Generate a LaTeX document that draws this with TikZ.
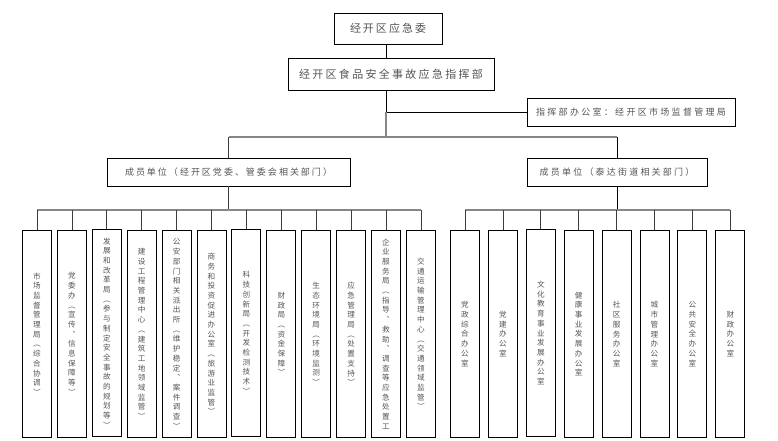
\documentclass[tikz,border=0pt]{standalone}
\usepackage{fontspec}
\newfontfamily\cjk{Noto Sans CJK SC}
\definecolor{txt}{RGB}{85,85,85}
\definecolor{busc}{RGB}{135,135,135}
\definecolor{dropc}{RGB}{60,60,60}
\makeatletter
\newcommand\hsp[2]{\def\hsp@s{}\@tfor\hsp@c:=#2\do{\hsp@s\hsp@c\def\hsp@s{\hskip#1\relax}}}
\newcommand\vtxt[1]{\vbox{\baselineskip=9.7pt\lineskip=0pt\lineskiplimit=-\maxdimen
  \@tfor\vt@c:=#1\do{\hbox to 10pt{\hss\vt@c\hss}}}}
\makeatother
\begin{document}
\begin{tikzpicture}[x=1pt,y=-1pt,
  hbig/.style={draw=black,line width=0.9pt,inner sep=0pt,text=txt,font=\cjk\fontsize{11}{13}\selectfont},
  hsmall/.style={draw=black,line width=0.9pt,inner sep=0pt,text=txt,font=\cjk\fontsize{9}{11}\selectfont},
  vbx/.style={draw=black,line width=0.9pt,inner sep=0pt,text=txt,minimum width=29pt,minimum height=207pt,font=\cjk\fontsize{7.6}{9.7}\selectfont},
  conn/.style={draw=dropc,line width=0.8pt},
  busline/.style={draw=busc,line width=1.3pt}]
\useasboundingbox (0,0) rectangle (778,441);

% top part
\node[hbig,minimum width=108pt,minimum height=31pt] (top) at (388,28.5) {\hsp{2pt}{经开区应急委}};
\node[hbig,minimum width=206pt,minimum height=32pt] (cmd) at (391,74) {\hsp{2.3pt}{经开区食品安全事故应急指挥部}};
\node[hsmall,minimum width=208pt,minimum height=28pt] (office) at (631,112) {\hsp{2.3pt}{指挥部办公室：经开区市场监督管理局}};
\node[hsmall,minimum width=243pt,minimum height=28pt] (memL) at (228.5,172) {\hsp{2pt}{成员单位（经开区党委、管委会相关部门）}};
\node[hsmall,minimum width=180pt,minimum height=28pt] (memR) at (617,172) {\hsp{2.2pt}{成员单位（泰达街道相关部门）}};

\coordinate (t) at (386,0);
\coordinate (bm) at (0,137);
\coordinate (bb) at (0,210);

\draw[conn,draw=black] (top.south -| t) -- (cmd.north -| t);
\draw[conn,draw=black] (cmd.south -| t) -- (t |- office.west);
\draw[conn,draw=black] (t |- office.west) -- (office.west);
\draw[busline] (t |- office.west) -- (t |- bm);
\draw[busline] (memL.north |- bm) -- (memR.north |- bm);
\draw[conn] (memL.north |- bm) -- (memL.north);
\draw[conn,draw=black] (memR.north |- bm) -- (memR.north);

% left units
\node[vbx] (L1) at (37,334) {\vtxt{市场监督管理局︵综合协调︶}};
\node[vbx] (L2) at (71.9,334) {\vtxt{党委办︵宣传︑信息保障等︶}};
\node[vbx] (L3) at (106.8,333) {\vtxt{发展和改革局︵参与制定安全事故的规划等︶}};
\node[vbx] (L4) at (141.7,334) {\vtxt{建设工程管理中心︵建筑工地领域监管︶}};
\node[vbx] (L5) at (176.6,334) {\vtxt{公安部门相关派出所︵维护稳定︑案件调查︶}};
\node[vbx] (L6) at (211.5,334) {\vtxt{商务和投资促进办公室︵旅游业监管︶}};
\node[vbx] (L7) at (246.4,333) {\vtxt{科技创新局︵开发检测技术︶}};
\node[vbx] (L8) at (281.3,334) {\vtxt{财政局︵资金保障︶}};
\node[vbx] (L9) at (316.2,334) {\vtxt{生态环境局︵环境监测︶}};
\node[vbx] (L10) at (351.1,334) {\vtxt{应急管理局︵处置支持︶}};
\node[vbx] (L11) at (386,334) {\vtxt{企业服务局︵指导︑救助︑调查等应急处置工}};
\node[vbx] (L12) at (420.9,334) {\vtxt{交通运输管理中心︵交通领域监管︶}};

% right units
\node[vbx] (R1) at (465,334) {\vtxt{党政综合办公室}};
\node[vbx] (R2) at (502.9,334) {\vtxt{党建办公室}};
\node[vbx] (R3) at (540.8,333) {\vtxt{文化教育事业发展办公室}};
\node[vbx] (R4) at (578.7,334) {\vtxt{健康事业发展办公室}};
\node[vbx] (R5) at (616.6,334) {\vtxt{社区服务办公室}};
\node[vbx] (R6) at (654.5,334) {\vtxt{城市管理办公室}};
\node[vbx] (R7) at (692.4,334) {\vtxt{公共安全办公室}};
\node[vbx] (R8) at (730.3,334) {\vtxt{财政办公室}};

% buses
\draw[conn] (memL.south) -- (memL.south |- bb);
\draw[conn,draw=black] (memR.south) -- (memR.south |- bb);
\draw[busline] (L1.north |- bb) -- (L12.north |- bb);
\draw[busline] (R1.north |- bb) -- (R8.north |- bb);
\foreach \n in {L1,L2,L3,L4,L5,L6,L7,L8,L9,L10,L11,L12,R1,R2,R3,R4,R5,R6,R7,R8}
  \draw[conn] (\n.north |- bb) -- (\n.north);
\end{tikzpicture}
\end{document}
